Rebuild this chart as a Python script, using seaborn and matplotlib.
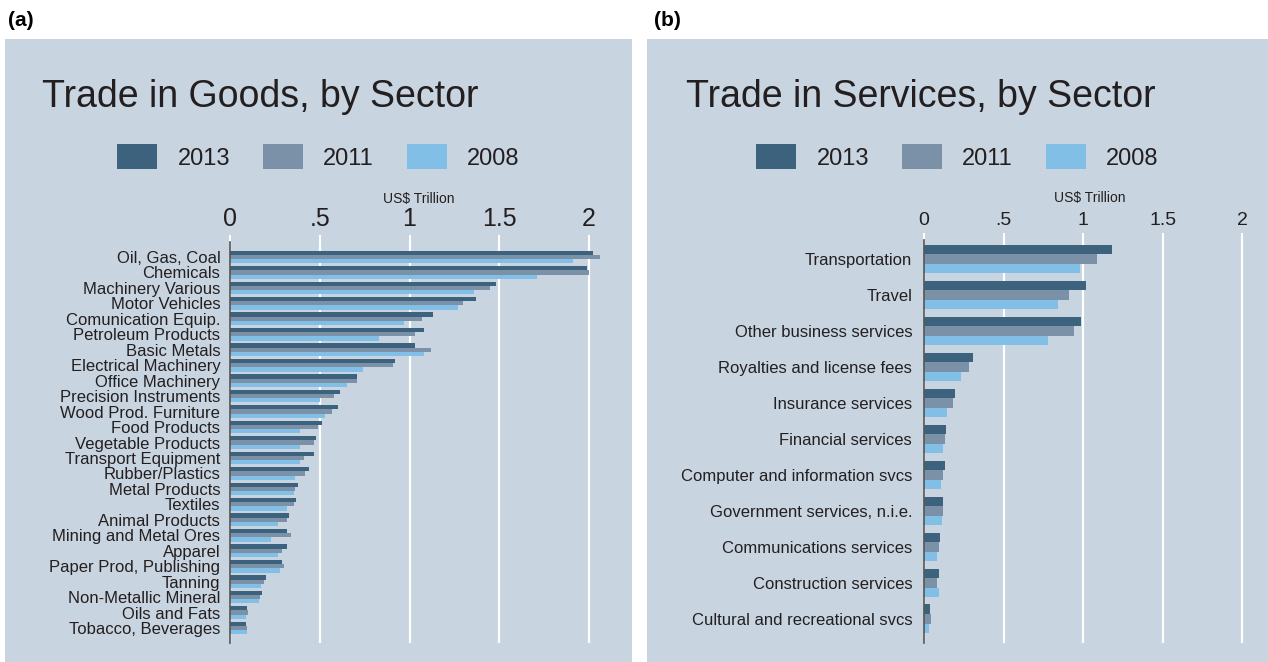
import matplotlib
matplotlib.use("Agg")
import matplotlib.pyplot as plt
import seaborn as sns
import pandas as pd
from matplotlib.patches import Rectangle, Patch

# ---- data (US$ trillion) ----
years = ["2013", "2011", "2008"]

goods_sectors = [
    "Oil, Gas, Coal", "Chemicals", "Machinery Various", "Motor Vehicles",
    "Comunication Equip.", "Petroleum Products", "Basic Metals",
    "Electrical Machinery", "Office Machinery", "Precision Instruments",
    "Wood Prod. Furniture", "Food Products", "Vegetable Products",
    "Transport Equipment", "Rubber/Plastics", "Metal Products", "Textiles",
    "Animal Products", "Mining and Metal Ores", "Apparel",
    "Paper Prod, Publishing", "Tanning", "Non-Metallic Mineral",
    "Oils and Fats", "Tobacco, Beverages",
]
goods_2013 = [2.02, 1.99, 1.48, 1.37, 1.13, 1.08, 1.03, 0.92, 0.71, 0.61,
              0.60, 0.51, 0.48, 0.47, 0.44, 0.38, 0.37, 0.33, 0.32, 0.32,
              0.29, 0.20, 0.18, 0.095, 0.09]
goods_2011 = [2.06, 2.00, 1.45, 1.30, 1.07, 1.03, 1.12, 0.91, 0.71, 0.58,
              0.57, 0.49, 0.47, 0.41, 0.42, 0.36, 0.355, 0.32, 0.34, 0.29,
              0.30, 0.19, 0.165, 0.10, 0.095]
goods_2008 = [1.91, 1.71, 1.36, 1.27, 0.97, 0.83, 1.08, 0.74, 0.65, 0.50,
              0.53, 0.39, 0.39, 0.39, 0.36, 0.355, 0.32, 0.27, 0.23, 0.27,
              0.28, 0.17, 0.16, 0.087, 0.095]

service_sectors = [
    "Transportation", "Travel", "Other business services",
    "Royalties and license fees", "Insurance services", "Financial services",
    "Computer and information svcs", "Government services, n.i.e.",
    "Communications services", "Construction services",
    "Cultural and recreational svcs",
]
services_2013 = [1.18, 1.015, 0.985, 0.31, 0.195, 0.14, 0.134, 0.117, 0.10, 0.094, 0.04]
services_2011 = [1.09, 0.91, 0.94, 0.28, 0.18, 0.13, 0.12, 0.117, 0.094, 0.082, 0.042]
services_2008 = [0.98, 0.84, 0.78, 0.23, 0.145, 0.117, 0.105, 0.11, 0.08, 0.094, 0.031]

tick_vals = [0, 0.5, 1, 1.5, 2]
tick_labels = ["0", ".5", "1", "1.5", "2"]

colors = {"2013": "#3d627d", "2011": "#7b91a7", "2008": "#82bfe7"}
bg = "#c8d4e0"
txt = "#231f20"


def long_frame(sectors, v13, v11, v08):
    wide = pd.DataFrame({"sector": sectors, "2013": v13, "2011": v11, "2008": v08})
    return wide.melt(id_vars="sector", var_name="year", value_name="value")


goods = long_frame(goods_sectors, goods_2013, goods_2011, goods_2008)
services = long_frame(service_sectors, services_2013, services_2011, services_2008)

sns.set_style("white")
plt.rcParams["font.family"] = ["Liberation Sans", "DejaVu Sans"]

W, H = 1268, 662
fig = plt.figure(figsize=(W / 100, H / 100), dpi=100)

# panel backgrounds
for x0, x1 in [(5, 632), (647, 1268)]:
    fig.patches.append(Rectangle((x0 / W, 0), (x1 - x0) / W, 1 - 39 / H,
                                 transform=fig.transFigure, facecolor=bg,
                                 edgecolor="none", zorder=-5))

ax1 = fig.add_axes([230 / W, 1 - 643 / H, 377 / W, 401 / H])
ax2 = fig.add_axes([924 / W, 1 - 643 / H, 331 / W, 403 / H])


def draw(ax, df, xmax, ylim, width, tick_fs, label_fs, ypad, xlabelpad):
    sns.barplot(data=df, x="value", y="sector", hue="year", hue_order=years,
                palette=colors, orient="h", width=width, saturation=1,
                linewidth=0, ax=ax)
    ax.legend_.remove()
    ax.set_facecolor(bg)
    ax.set_xlim(0, xmax)
    ax.set_ylim(*ylim)
    ax.xaxis.tick_top()
    ax.xaxis.set_label_position("top")
    ax.set_xticks(tick_vals)
    ax.set_xticklabels(tick_labels, fontsize=tick_fs, color=txt)
    ax.set_xlabel("US$ Trillion", fontsize=10, color=txt, labelpad=xlabelpad)
    ax.set_ylabel("")
    ax.tick_params(axis="x", top=True, length=5, width=1.5, color="white", pad=3)
    ax.tick_params(axis="y", left=False, labelsize=label_fs, labelcolor=txt, pad=ypad)
    ax.grid(axis="x", color="white", linewidth=1.6)
    ax.grid(axis="y", visible=False)
    ax.set_axisbelow(True)
    for s in ["top", "right", "bottom"]:
        ax.spines[s].set_visible(False)
    ax.spines["left"].set_color("#555555")
    ax.spines["left"].set_linewidth(1.2)


draw(ax1, goods, 2.1, (24.97, -0.97), 0.82, 18, 12, 3.5, 3)
draw(ax2, services, 2.08, (10.67, -0.53), 0.8, 14, 12, 5, 7)

# titles and panel letters
fig.text(42 / W, 1 - 97 / H, "Trade in Goods, by Sector", fontsize=27,
         color=txt, va="center", ha="left")
fig.text(686 / W, 1 - 97 / H, "Trade in Services, by Sector", fontsize=27,
         color=txt, va="center", ha="left")
fig.text(8 / W, 1 - 20 / H, "(a)", fontsize=15, fontweight="bold", color="black",
         va="center", ha="left")
fig.text(654 / W, 1 - 20 / H, "(b)", fontsize=15, fontweight="bold", color="black",
         va="center", ha="left")

handles = [Patch(facecolor=colors[y], edgecolor="none") for y in years]
for cx in [318.5, 957.5]:
    fig.legend(handles, years, loc="center", bbox_to_anchor=(cx / W, 1 - 157 / H),
               ncol=3, frameon=False, fontsize=17, handlelength=1.7,
               handleheight=1.2, handletextpad=0.85, columnspacing=1.4,
               labelcolor=txt)

fig.savefig("out.png", dpi=100, facecolor="white")
